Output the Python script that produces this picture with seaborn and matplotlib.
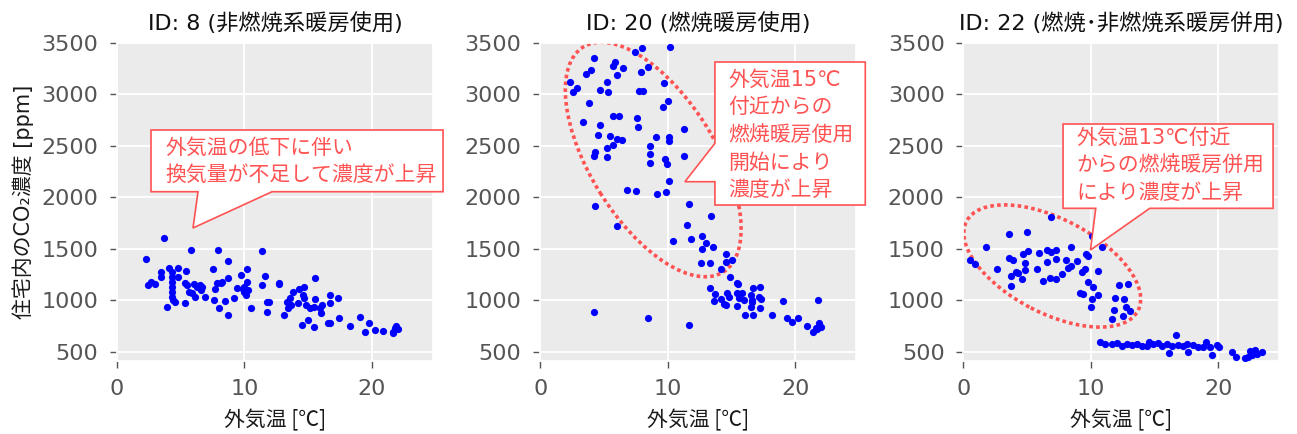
import matplotlib
matplotlib.use("Agg")
import matplotlib.pyplot as plt
import seaborn as sns
import pandas as pd
from matplotlib.patches import Polygon, Ellipse

# ---- outdoor temperature [°C] and indoor CO2 [ppm] per household ----
temp_id8 = [2.29, 3.70, 2.40, 2.63, 2.95, 3.42, 3.42, 3.89, 4.09, 4.30, 4.30, 4.30, 4.30, 4.30,
            4.30, 4.43, 4.59, 4.80, 4.75, 5.32, 5.42, 5.32, 5.53, 5.79, 5.68, 5.92, 6.13, 6.05,
            6.31, 6.52, 6.57, 6.68, 6.88, 7.51, 7.61, 7.72, 7.82, 7.90, 7.98, 8.14, 8.27, 8.47,
            8.71, 8.71, 8.71, 9.18, 9.44, 9.75, 9.91, 9.96, 10.09, 9.96, 10.17, 10.22, 10.25,
            10.53, 11.39, 11.39, 11.60, 11.79, 11.79, 11.94, 12.75, 12.75, 13.09, 13.35, 13.45,
            13.61, 13.69, 13.79, 14.18, 14.26, 14.50, 14.60, 14.71, 14.71, 14.81, 15.02, 15.12,
            15.44, 15.46, 15.54, 15.57, 15.96, 16.04, 16.11, 16.56, 16.74, 16.74, 16.74, 17.31,
            17.39, 18.25, 19.09, 19.48, 19.74, 20.26, 20.91, 21.69, 21.83, 21.90, 22.03, 21.69]
co2_id8 = [1396, 1604, 1147, 1180, 1157, 1222, 1277, 934, 1316, 1277, 1228, 1180, 1131, 1083,
           1034, 1002, 985, 1316, 1228, 976, 1283, 1163, 1147, 1487, 1083, 1066, 1034, 1157,
           1131, 1147, 1099, 1125, 1034, 1306, 1002, 1105, 1163, 1487, 921, 1163, 1180, 995,
           1212, 1377, 853, 1024, 1115, 1241, 1112, 1076, 1050, 1131, 1299, 1180, 1099,
           921, 1477, 1144, 1238, 985, 885, 985, 1167, 1154, 856, 985, 921,
           1018, 953, 1079, 976, 1105, 759, 1050, 1125, 1018, 953, 807, 921,
           937, 743, 1212, 1008, 921, 879, 953, 782, 782, 1050, 969, 1018,
           824, 746, 833, 694, 782, 710, 704, 691, 727, 749, 720, 678]

temp_id20 = [7.45, 8.02, 10.22, 4.24, 5.88, 5.73, 6.51, 4.02, 3.63, 6.04, 7.90, 8.42, 5.23, 2.35,
             2.85, 2.56, 4.71, 5.33, 7.79, 8.10, 9.73, 3.79, 10.04, 9.65, 5.70, 6.22, 7.61, 3.32,
             4.73, 7.71, 11.32, 4.53, 5.49, 6.06, 6.38, 9.12, 10.09, 10.12, 5.70, 5.23, 8.63,
             4.29, 4.24, 5.23, 8.63, 9.80, 11.32, 8.63, 9.94, 10.12, 6.82, 7.55, 9.20, 9.86,
             4.29, 6.04, 11.71, 11.55, 10.45, 11.82, 4.24, 8.42, 11.71,
             13.41, 12.73, 13.00, 12.73, 13.59, 14.61, 15.08, 12.63, 13.31, 14.61, 14.20, 14.93,
             15.43, 15.55, 13.31, 13.73, 16.71, 17.23, 14.69, 14.82, 14.20, 13.62, 14.43, 14.61,
             15.47, 15.87, 15.61, 16.00, 16.53, 16.60, 17.18, 17.33, 16.65, 15.43, 16.53, 17.23,
             16.05, 16.71, 18.22, 19.06, 21.83, 19.40, 19.74, 20.21, 20.92, 21.44, 21.62, 21.88,
             22.04, 21.70]
co2_id20 = [3413, 3446, 3461, 3349, 3316, 3277, 3257, 3235, 3196, 3187, 3213, 3261, 3116, 3116,
            3057, 3019, 3041, 3019, 3031, 3031, 3106, 2918, 2937, 2876, 2791, 2785, 2766, 2733,
            2698, 2685, 2665, 2601, 2597, 2565, 2558, 2582, 2587, 2546, 2504, 2481, 2500,
            2442, 2400, 2390, 2422, 2374, 2397, 2335, 2319, 2160, 2067, 2060, 2028, 2053,
            1915, 1720, 1931, 1730, 1578, 1591, 885, 830, 756,
            1815, 1623, 1558, 1497, 1514, 1446, 1390, 1364, 1364, 1371, 1300, 1228,
            1170, 1157, 1116, 1060, 1116, 1131, 1073, 1034, 1009, 992, 963, 953,
            1067, 1067, 1018, 1002, 1050, 1002, 1034, 1015, 985, 944, 937, 921,
            856, 856, 856, 992, 1005, 824, 791, 824, 752, 694, 727, 776,
            743, 717]

temp_id22 = [6.91, 3.58, 5.00, 10.05, 10.84, 1.81, 0.49, 0.89, 2.67, 3.58, 3.90, 4.82, 4.68, 5.03,
             5.92, 6.57, 6.91, 7.23, 8.48, 9.61, 9.79, 6.52, 7.23, 8.01, 8.92, 8.41, 8.22, 9.53,
             9.32, 5.81, 4.82, 4.11, 3.77, 4.29, 4.56, 7.70, 7.25, 6.76, 6.25, 10.53, 3.72, 9.79,
             10.18, 10.57, 9.14, 9.35, 10.05, 10.02, 12.20, 11.89, 11.81, 11.63, 12.93, 12.59,
             12.75, 13.06, 12.54,
             10.71, 11.10, 11.63, 12.02, 12.41, 12.80, 13.20, 13.59, 13.98, 14.38, 14.58, 14.89,
             15.29, 15.55, 15.95, 16.15, 16.34, 16.68, 16.86, 17.25, 17.62, 17.56, 18.04, 18.43,
             18.82, 19.03, 19.53, 19.35, 19.87, 20.08, 21.05, 21.37, 22.10, 22.49, 22.62, 22.88,
             23.02, 23.46, 22.36]
co2_id22 = [1811, 1640, 1659, 1623, 1519, 1519, 1390, 1349, 1303, 1407, 1390, 1358, 1449, 1478,
            1455, 1487, 1465, 1487, 1514, 1449, 1432, 1371, 1397, 1390, 1384, 1335, 1310, 1303,
            1274, 1306, 1293, 1277, 1238, 1261, 1209, 1251, 1206, 1216, 1186, 1286, 1138, 1180,
            1125, 1053, 1067, 1060, 1009, 931, 1145, 1024, 905, 815, 1157, 1009,
            937, 898, 850,
            597, 575, 575, 587, 558, 575, 565, 575, 558, 555, 597, 575,
            582, 558, 572, 484, 558, 662, 565, 558, 500, 572, 565, 549,
            549, 597, 468, 549, 565, 549, 500, 446, 436, 510, 468, 517,
            478, 494, 451]

titles = ["ID: 8 (非燃焼系暖房使用)", "ID: 20 (燃焼暖房使用)", "ID: 22 (燃焼･非燃焼系暖房併用)"]
notes = ["外気温の低下に伴い\n換気量が不足して濃度が上昇",
         "外気温15℃\n付近からの\n燃焼暖房使用\n開始により\n濃度が上昇",
         "外気温13℃付近\nからの燃焼暖房併用\nにより濃度が上昇"]
x_ticks = [0, 10, 20]
y_ticks = [500, 1000, 1500, 2000, 2500, 3000, 3500]

frames = [
    pd.DataFrame({"temp": temp_id8, "co2": co2_id8}),
    pd.DataFrame({"temp": temp_id20, "co2": co2_id20}),
    pd.DataFrame({"temp": temp_id22, "co2": co2_id22}),
]

sns.set_theme(style="darkgrid", rc={
    "axes.facecolor": "#EBEBEB",
    "axes.edgecolor": "white",
    "grid.color": "white",
    "grid.linewidth": 1.3,
    "xtick.bottom": True,
    "ytick.left": True,
    "xtick.color": "#555555",
    "ytick.color": "#555555",
    "xtick.major.size": 5,
    "ytick.major.size": 5,
    "xtick.major.width": 1.0,
    "ytick.major.width": 1.0,
})
plt.rcParams["font.family"] = ["DejaVu Sans", "Noto Sans CJK JP"]
LATIN_FIRST = ["DejaVu Sans", "Noto Sans CJK JP"]
CJK_FIRST = ["Noto Sans CJK JP", "DejaVu Sans"]

RED = "#FF5252"

fig, axes = plt.subplots(1, 3, figsize=(12.97, 4.34), dpi=100)
fig.subplots_adjust(left=0.0902, right=0.9865, bottom=0.1689, top=0.9016, wspace=0.339)

for ax, df, title in zip(axes, frames, titles):
    sns.scatterplot(data=df, x="temp", y="co2", ax=ax, color="blue", s=27,
                    linewidth=0, zorder=3)
    ax.set_xlim(0, 24.8)
    ax.set_ylim(413, 3500)
    ax.set_xticks(x_ticks)
    ax.set_yticks(y_ticks)
    ax.tick_params(labelsize=16, pad=8.5)
    ax.set_title(title, fontsize=16, color="#111111", pad=9)
    ax.set_xlabel("外気温 [℃]", fontsize=15, color="#1a1a1a", labelpad=7, family=CJK_FIRST)
    ax.set_ylabel("")

axes[0].set_ylabel("住宅内のCO₂濃度 [ppm]", fontsize=15, color="#1a1a1a", labelpad=5,
                   family=LATIN_FIRST)

# dotted ellipses marking the combustion-heating clusters (axes fraction)
for ax, (cx, cy, w, h, ang) in zip(axes[1:], [(0.3576, 0.6327, 0.835, 0.396, -57.9),
                                              (0.281, 0.2978, 0.611, 0.296, -27.3)]):
    ax.add_patch(Ellipse((cx, cy), w, h, angle=ang, transform=ax.transAxes, fill=False,
                         edgecolor=RED, linewidth=2.6, linestyle=(0, (1, 0.9)),
                         capstyle="butt", zorder=2.5))

# callout boxes (box merged with a pointer wedge), in axes fraction
callouts = [
    [(0.1076, 0.7255), (1.0316, 0.7255), (1.0316, 0.5314), (0.4905, 0.5314),
     (0.2405, 0.4173), (0.2563, 0.5314), (0.1076, 0.5314)],
    [(0.5528, 0.9393), (1.0285, 0.9393), (1.0285, 0.4896), (0.5528, 0.4896),
     (0.5528, 0.5629), (0.4579, 0.5629), (0.5528, 0.6836)],
    [(0.3152, 0.7443), (0.9797, 0.7443), (0.9797, 0.4792), (0.5896, 0.4792),
     (0.4019, 0.3481), (0.4187, 0.4792), (0.3152, 0.4792)],
]
text_pos = [(0.152, 0.6264), (0.595, 0.7097), (0.3585, 0.6145)]

for ax, verts, (tx, ty), note in zip(axes, callouts, text_pos, notes):
    ax.add_patch(Polygon(verts, closed=True, transform=ax.transAxes, facecolor="white",
                         edgecolor=RED, linewidth=1.2, clip_on=False, zorder=4))
    ax.text(tx, ty, note, transform=ax.transAxes, ha="left", va="center", fontsize=15,
            color=RED, linespacing=1.47, zorder=5, family=LATIN_FIRST)

fig.savefig("out.png", dpi=100)
